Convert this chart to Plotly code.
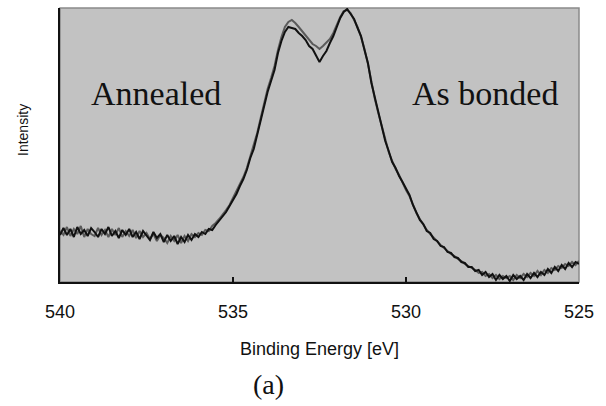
import plotly.graph_objects as go

# Binding energy grid (eV), 540.0 -> 525.0 in 0.1 eV steps
energy = [round(540.0 - 0.1 * i, 1) for i in range(151)]

# As bonded spectrum (arbitrary intensity units)
as_bonded = [
    47, 54, 47, 53, 45, 55, 48, 52, 46, 54,
    50, 45, 53, 48, 55, 46, 51, 44, 52, 47,
    53, 45, 50, 43, 51, 46, 42, 50, 44, 48,
    40, 47, 41, 46, 38, 45, 40, 47, 42, 48,
    45, 50, 48, 53, 52, 57, 61, 66, 70, 76,
    82, 88, 96, 103, 112, 124, 133, 147, 161, 178,
    190, 201, 212, 229, 241, 250, 255, 254, 253, 249,
    246, 242, 236, 233, 227, 220, 226, 231, 239, 246,
    255, 264, 270, 273, 268, 263, 254, 246, 232, 219,
    199, 184, 168, 156, 141, 131, 120, 114, 106, 100,
    93, 87, 77, 70, 62, 58, 51, 49, 43, 41,
    36, 35, 30, 29, 25, 24, 20, 19, 15, 15,
    11, 12, 7, 10, 5, 8, 2, 7, 3, 6,
    1, 7, 3, 6, 2, 8, 4, 9, 5, 10,
    7, 13, 9, 15, 11, 17, 13, 19, 15, 20, 18,
]

# Annealed spectrum
annealed = [
    51, 47, 55, 46, 53, 48, 56, 45, 53, 48,
    46, 54, 47, 52, 45, 53, 47, 54, 45, 51,
    46, 52, 44, 51, 45, 49, 43, 48, 41, 47,
    44, 39, 46, 41, 47, 39, 46, 41, 48, 45,
    49, 47, 52, 51, 56, 59, 63, 67, 72, 77,
    84, 90, 97, 105, 114, 125, 136, 149, 164, 180,
    193, 204, 216, 232, 245, 255, 260, 262, 259, 255,
    251, 247, 242, 238, 236, 233, 236, 240, 243, 249,
    257, 265, 271, 272, 269, 262, 255, 245, 233, 218,
    200, 183, 169, 155, 142, 130, 121, 113, 107, 99,
    92, 86, 78, 69, 63, 57, 52, 48, 44, 40,
    37, 34, 31, 28, 26, 23, 21, 18, 16, 14,
    12, 9, 10, 6, 8, 4, 7, 3, 6, 4,
    6, 2, 7, 4, 8, 5, 9, 6, 11, 7,
    12, 9, 14, 12, 16, 14, 18, 16, 20, 17, 21,
]

tick_vals = [540, 535, 530, 525]
tick_text = ["540", "535", "530", "525"]

fig = go.Figure()
fig.add_trace(go.Scatter(x=energy, y=annealed, mode="lines", name="Annealed",
                         line=dict(color="#5a5a5a", width=2)))
fig.add_trace(go.Scatter(x=energy, y=as_bonded, mode="lines", name="As bonded",
                         line=dict(color="#111111", width=2)))

fig.update_layout(
    width=606, height=406,
    margin=dict(l=60, r=27, t=8, b=124),
    paper_bgcolor="white",
    plot_bgcolor="#c2c2c2",
    showlegend=False,
    font=dict(family="Liberation Sans", color="#111111"),
    xaxis=dict(
        range=[540, 525], tickvals=tick_vals, ticktext=tick_text,
        ticks="inside", ticklen=5, tickcolor="#111111", tickwidth=1.5,
        showline=True, linecolor="#111111", linewidth=2,
        showgrid=False, zeroline=False,
        tickfont=dict(size=18, family="Liberation Sans"),
        ticklabelstandoff=12,
        title=dict(text="Binding Energy [eV]", standoff=22,
                   font=dict(size=18, family="Liberation Sans")),
    ),
    yaxis=dict(
        range=[0, 274], showticklabels=False, ticks="",
        showline=True, linecolor="#111111", linewidth=2,
        showgrid=False, zeroline=False,
    ),
    shapes=[dict(type="rect", xref="paper", yref="paper", x0=0, x1=1, y0=0, y1=1,
                 line=dict(color="#8a8a8a", width=1.5), layer="below")],
    annotations=[
        dict(text="Annealed", xref="paper", yref="paper", x=(156 - 60) / 519,
             y=(282 - 93) / 274, xanchor="center", yanchor="middle", showarrow=False,
             font=dict(family="Liberation Serif", size=34, color="#111111")),
        dict(text="As bonded", xref="paper", yref="paper", x=(485 - 60) / 519,
             y=(282 - 93) / 274, xanchor="center", yanchor="middle", showarrow=False,
             font=dict(family="Liberation Serif", size=34, color="#111111")),
        dict(text="Intensity", xref="paper", yref="paper", x=(23 - 60) / 519,
             y=(282 - 130) / 274, xanchor="center", yanchor="middle",
             showarrow=False, textangle=-90,
             font=dict(family="Liberation Sans", size=14, color="#111111")),
        dict(text="(a)", xref="paper", yref="paper", x=(268 - 60) / 519,
             y=(282 - 384) / 274, xanchor="center", yanchor="middle", showarrow=False,
             font=dict(family="Liberation Serif", size=28, color="#111111")),
    ],
)

fig.write_html("out.html")
